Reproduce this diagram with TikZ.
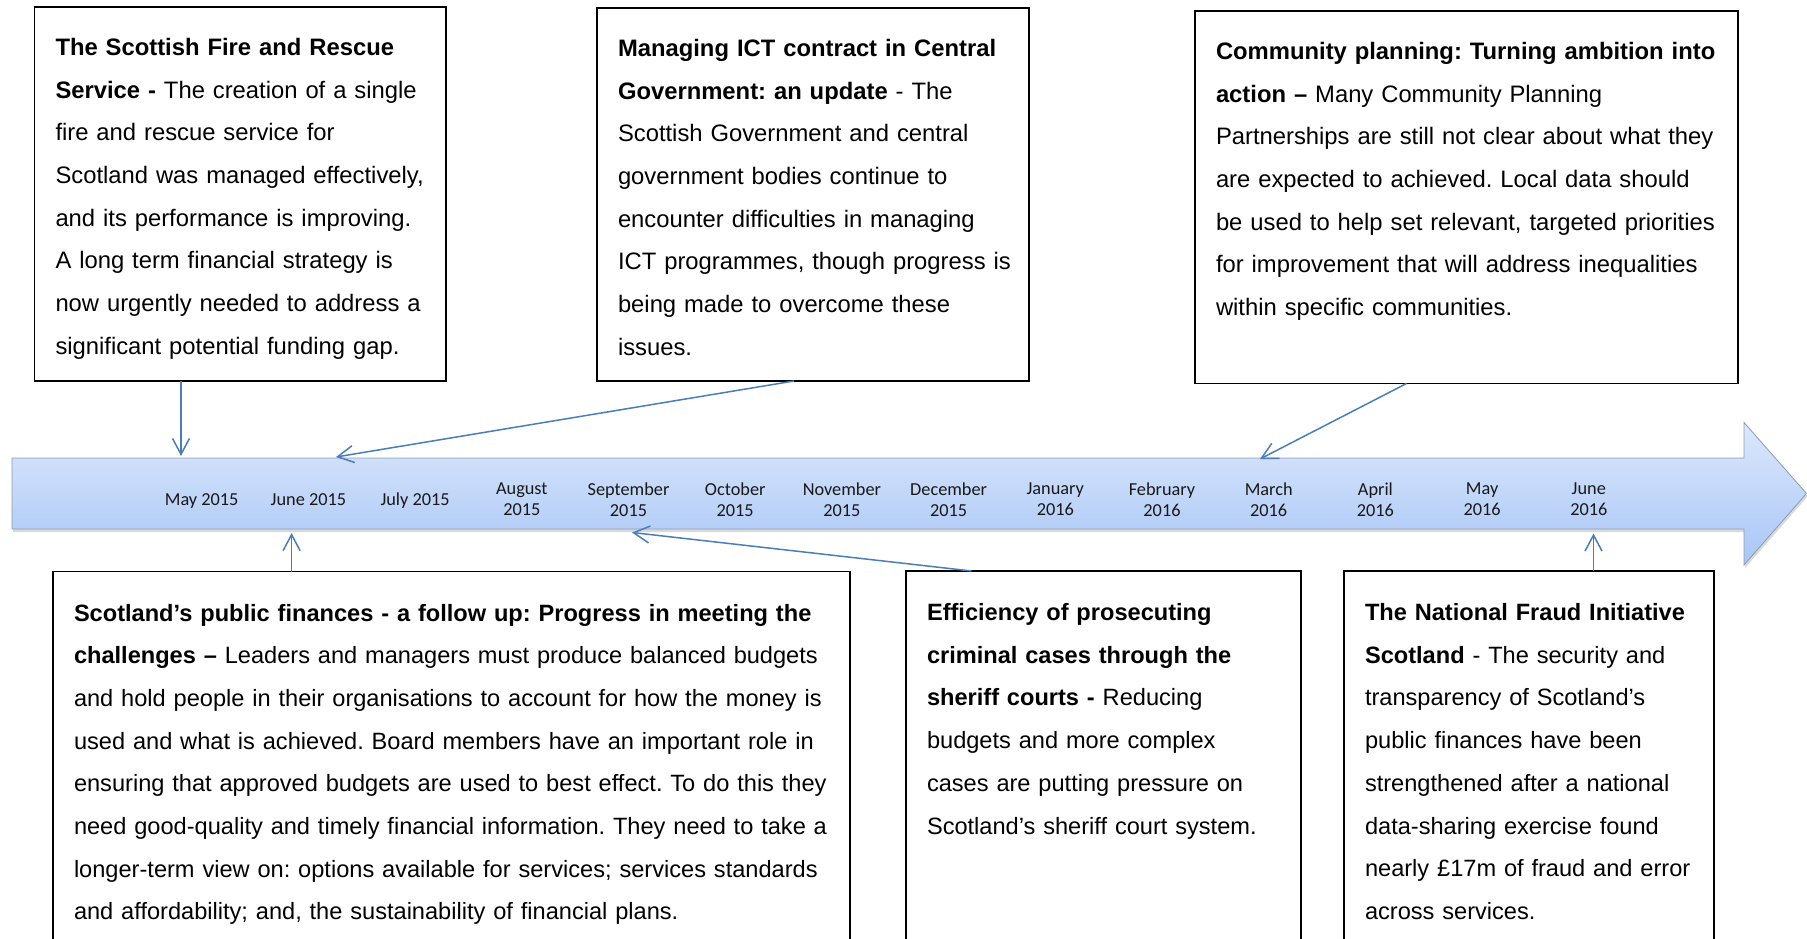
\documentclass[tikz,border=0pt]{standalone}
\usepackage{fontspec}
\usepackage{tikz}
\usetikzlibrary{calc}
\usetikzlibrary{arrows.meta}
\usetikzlibrary{shadows}

\newfontfamily\boxfont{Liberation Sans}
\newfontfamily\monthfont{Carlito}

\definecolor{linkblue}{HTML}{4A7EBB}
\definecolor{bandtop}{HTML}{DCE8FC}
\definecolor{bandbottom}{HTML}{A8C6F6}
\definecolor{bandedge}{HTML}{8C9BB0}

% lines of a report box, kept as set
\newcommand{\boxlines}[1]{\begin{tabular}[t]{@{}l@{}}#1\end{tabular}}

\tikzset{
  infobox/.style={draw, line width=1.6pt, anchor=north west, outer sep=0pt,
    inner xsep=21pt, inner ysep=0pt, text height=48.5pt,
    font=\boxfont\fontsize{23.8pt}{42.7pt}\selectfont\frenchspacing},
  lowbox/.style={infobox, text height=49.5pt,
    font=\boxfont\fontsize{23.6pt}{42.7pt}\selectfont\frenchspacing},
  month/.style={align=center, text=black!90,
    font=\monthfont\fontsize{18.3pt}{21pt}\selectfont},
  link/.style={linkblue, line width=1.5pt, -{Straight Barb[length=16pt,width=17pt]}}
}

\begin{document}
\begin{tikzpicture}[x=1pt,y=-1pt]
            % Page frame
            \useasboundingbox (0,0) rectangle (1807,939);
            \clip (0,0) rectangle (1807,939);

            % Month spacing on the time line
            \def\mx{201.7}  % first month
            \def\dx{106.7}  % one month
            \def\my{499.5}

            % Draw the time line arrow
            \path[draw=bandedge, line width=0.8pt, top color=bandtop, bottom color=bandbottom,
                  drop shadow={opacity=0.3, shadow xshift=1pt, shadow yshift=-3pt}]
                (12,458) -- (1744,458) -- (1744,422.5) -- (1806.5,493.5)
                -- (1744,565) -- (1744,529) -- (12,529) -- cycle;

            % Months
            \node[month, anchor=base] (may15) at (\mx,505.5) {May 2015};
            \node[month, anchor=base] (jun15) at ({\mx+\dx},505.5) {June 2015};
            \node[month, anchor=base] (jul15) at ({\mx+2*\dx},505.5) {July 2015};
            \node[month] (aug15) at ({\mx+3*\dx},\my) {August\\2015};
            \node[month] (sep15) at ({\mx+4*\dx},\my) {September\\2015};
            \node[month] (oct15) at ({\mx+5*\dx},\my) {October\\2015};
            \node[month] (nov15) at ({\mx+6*\dx},\my) {November\\2015};
            \node[month] (dec15) at ({\mx+7*\dx},\my) {December\\2015};
            \node[month] (jan16) at ({\mx+8*\dx},\my) {January\\2016};
            \node[month] (feb16) at ({\mx+9*\dx},\my) {February\\2016};
            \node[month] (mar16) at ({\mx+10*\dx},\my) {March\\2016};
            \node[month] (apr16) at ({\mx+11*\dx},\my) {April\\2016};
            \node[month] (may16) at ({\mx+12*\dx},\my) {May\\2016};
            \node[month] (jun16) at ({\mx+13*\dx},\my) {June\\2016};

            % Reports above the line
            \node[infobox, text width=369.5pt, text depth=325.5pt] (fire) at (34.5,7) {\boxlines{%
                \textbf{The Scottish Fire and Rescue}\\
                \textbf{Service -} The creation of a single\\
                fire and rescue service for\\
                Scotland was managed effectively,\\
                and its performance is improving.\\
                A long term financial strategy is\\
                now urgently needed to address a\\
                significant potential funding gap.}};
            \node[infobox, text width=390pt, text depth=324.5pt] (ict) at (597,8) {\boxlines{%
                \textbf{Managing ICT contract in Central}\\
                \textbf{Government: an update} - The\\
                Scottish Government and central\\
                government bodies continue to\\
                encounter difficulties in managing\\
                ICT programmes, though progress is\\
                being made to overcome these\\
                issues.}};
            \node[infobox, text width=501pt, text depth=324pt] (cpp) at (1195,11) {\boxlines{%
                \textbf{Community planning: Turning ambition into}\\
                \textbf{action –} Many Community Planning\\
                Partnerships are still not clear about what they\\
                are expected to achieved. Local data should\\
                be used to help set relevant, targeted priorities\\
                for improvement that will address inequalities\\
                within specific communities.}};

            % Reports below the line
            \node[lowbox, text width=755pt, text depth=353pt] (pf) at (53,571.5) {\boxlines{%
                \textbf{Scotland’s public finances - a follow up: Progress in meeting the}\\
                \textbf{challenges –} Leaders and managers must produce balanced budgets\\
                and hold people in their organisations to account for how the money is\\
                used and what is achieved. Board members have an important role in\\
                ensuring that approved budgets are used to best effect. To do this they\\
                need good-quality and timely financial information. They need to take a\\
                longer-term view on: options available for services; services standards\\
                and affordability; and, the sustainability of financial plans.}};
            \node[lowbox, text width=353pt, text depth=353pt] (courts) at (906,571) {\boxlines{%
                \textbf{Efficiency of prosecuting}\\
                \textbf{criminal cases through the}\\
                \textbf{sheriff courts -} Reducing\\
                budgets and more complex\\
                cases are putting pressure on\\
                Scotland’s sheriff court system.}};
            \node[lowbox, text width=328pt, text depth=353pt] (nfi) at (1344,571) {\boxlines{%
                \textbf{The National Fraud Initiative}\\
                \textbf{Scotland} - The security and\\
                transparency of Scotland’s\\
                public finances have been\\
                strengthened after a national\\
                data-sharing exercise found\\
                nearly £17m of fraud and error\\
                across services.}};

            % Where the links meet the line
            \coordinate (Tfire) at (181,456);
            \coordinate (Tict) at (336,457);
            \coordinate (Tcpp) at (1260,459);
            \coordinate (Bpf) at (291.6,533);
            \coordinate (Bcourts) at (632,532.5);
            \coordinate (Bnfi) at (1593.5,533.5);

            % Draw the links
            \draw[link] (fire.south -| Tfire) -- (Tfire);
            \draw[link] ([xshift=-19pt]ict.south) -- (Tict);
            \draw[link] ([xshift=-60pt]cpp.south) -- (Tcpp);
            \draw[link] (pf.north -| Bpf) -- (Bpf);
            \draw[link] ([xshift=-132pt]courts.north) -- (Bcourts);
            \draw[link] (nfi.north -| Bnfi) -- (Bnfi);

        \end{tikzpicture}
\end{document}
